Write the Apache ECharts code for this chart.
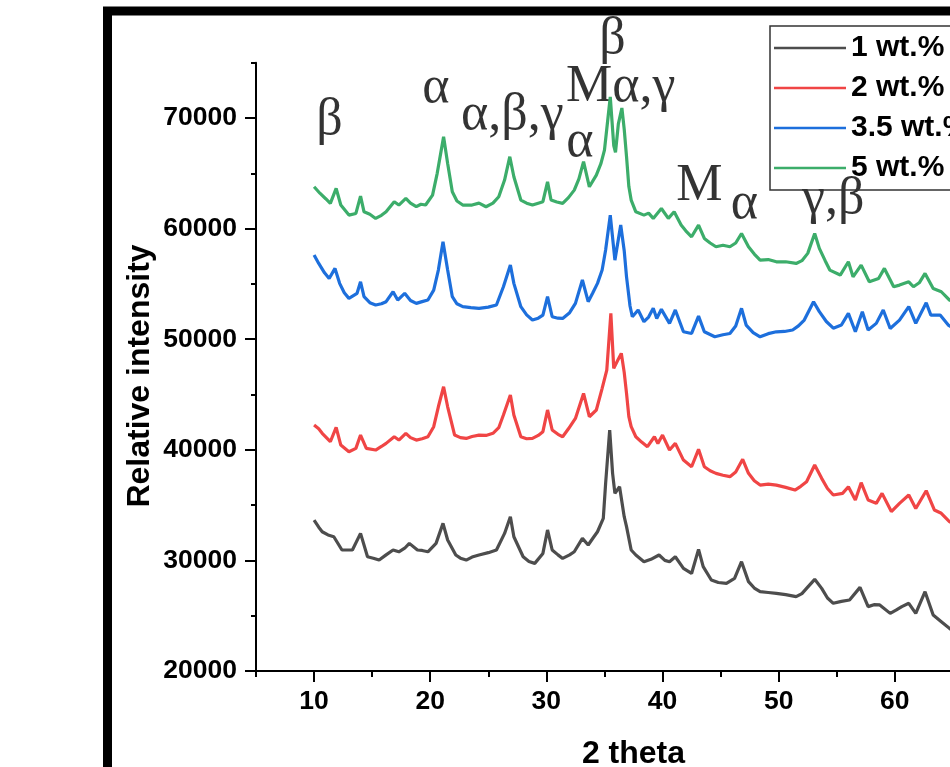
<!DOCTYPE html>
<html>
<head>
<meta charset="utf-8">
<script src="https://cdn.jsdelivr.net/npm/echarts@6/dist/echarts.min.js"></script>
<style>
  html, body { margin: 0; padding: 0; background: #fff; }
  #chart { width: 950px; height: 767px; }
</style>
</head>
<body>
<div id="chart"></div>
<script>
// [2 theta, intensity]
const wt1 = [[10.0,33650],[10.4,33000],[10.7,32590],[11.2,32300],[11.7,32140],[12.4,30940],[13.3,30940],[14.0,32440],[14.6,30330],[15.1,30200],[15.6,30030],[16.2,30500],[16.8,30940],[17.3,30780],[17.8,31100],[18.2,31540],[18.9,30940],[19.3,30900],[19.8,30780],[20.5,31540],[21.1,33350],[21.5,31840],[22.2,30490],[22.6,30200],[23.1,30030],[23.6,30300],[24.2,30490],[25.0,30700],[25.7,30940],[26.4,32440],[26.9,33950],[27.2,32140],[28.0,30330],[28.5,29900],[29.0,29730],[29.7,30630],[30.1,32750],[30.5,30940],[31.0,30500],[31.4,30180],[32.0,30500],[32.4,30780],[33.1,31990],[33.6,31390],[34.0,32000],[34.4,32590],[34.9,33800],[35.1,36960],[35.45,41790],[35.7,37870],[35.9,36060],[36.3,36660],[36.7,33950],[36.9,33050],[37.3,30940],[37.7,30490],[38.4,29880],[39.0,30100],[39.7,30490],[40.2,30000],[40.6,29880],[41.1,30330],[41.8,29280],[42.5,28820],[43.1,31000],[43.5,29430],[44.2,28230],[44.8,28000],[45.5,27920],[46.2,28370],[46.8,29880],[47.4,28080],[47.9,27500],[48.4,27170],[49.1,27100],[49.8,27020],[50.6,26900],[51.5,26720],[52.0,27000],[52.4,27470],[53.1,28290],[53.7,27470],[54.2,26600],[54.7,26120],[55.4,26300],[56.1,26420],[57.0,27560],[57.7,25820],[58.2,26000],[58.7,25970],[59.6,25210],[60.1,25500],[60.6,25820],[61.2,26120],[61.8,25210],[62.6,27170],[63.3,25060],[64.0,24460],[64.7,23860],[65.2,23500]]

const wt2 = [[10.0,42240],[10.4,41900],[10.7,41490],[11.4,40730],[11.9,42030],[12.3,40430],[13.0,39820],[13.6,40130],[14.0,41330],[14.5,40130],[15.3,39980],[15.8,40300],[16.2,40580],[16.9,41180],[17.3,40880],[17.9,41490],[18.3,41100],[18.8,40880],[19.3,41000],[19.8,41180],[20.3,42090],[20.7,43890],[21.15,45700],[21.5,43890],[22.1,41330],[22.6,41100],[23.1,41030],[23.6,41200],[24.2,41330],[24.8,41300],[25.4,41490],[25.9,42000],[26.3,43140],[26.9,44950],[27.2,43140],[27.8,41180],[28.3,41000],[28.8,41030],[29.3,41300],[29.7,41640],[30.1,43600],[30.5,41790],[31.0,41400],[31.4,41180],[31.9,41900],[32.5,42840],[33.2,45100],[33.7,42990],[34.3,43600],[34.8,45560],[35.2,47210],[35.55,52340],[35.8,47360],[36.1,48000],[36.45,48720],[36.7,47000],[36.9,45100],[37.1,43000],[37.3,42090],[37.7,41180],[38.2,40700],[38.7,40280],[39.3,41180],[39.6,40580],[40.0,41330],[40.6,39980],[41.1,40580],[41.8,39070],[42.5,38470],[43.1,40040],[43.6,38470],[44.1,38100],[44.6,37870],[45.2,37700],[45.8,37570],[46.3,38000],[46.9,39140],[47.4,37870],[47.9,37200],[48.4,36810],[49.1,36900],[49.8,36810],[50.6,36600],[51.4,36360],[51.9,36700],[52.4,37110],[53.1,38620],[53.7,37420],[54.2,36500],[54.7,35910],[55.5,36060],[56.0,36660],[56.6,35460],[57.1,37030],[57.7,35460],[58.4,35160],[58.9,36060],[59.7,34420],[60.4,35160],[61.2,35910],[61.8,34690],[62.7,36300],[63.4,34560],[64.0,34260],[64.7,33500],[65.2,33200]]

const wt35 = [[10.0,57610],[10.4,56850],[10.9,56000],[11.3,55490],[11.8,56400],[12.2,55050],[12.6,54200],[13.0,53690],[13.7,54150],[14.0,55190],[14.3,53840],[14.8,53300],[15.3,53090],[15.8,53200],[16.2,53390],[16.8,54290],[17.2,53540],[17.8,54150],[18.3,53500],[18.8,53240],[19.3,53400],[19.8,53540],[20.3,54440],[20.7,56250],[21.1,58810],[21.5,56250],[21.9,53840],[22.3,53200],[22.8,52940],[23.5,52850],[24.2,52790],[25.0,52900],[25.7,53090],[26.3,54740],[26.9,56700],[27.2,55050],[27.8,52940],[28.3,52200],[28.8,51730],[29.3,51900],[29.7,52180],[30.1,53840],[30.5,52030],[31.0,51900],[31.4,51880],[32.0,52400],[32.5,53240],[33.1,55350],[33.6,53390],[34.0,54200],[34.4,55050],[34.8,56250],[35.1,58060],[35.5,61220],[35.9,57150],[36.4,60320],[36.7,58000],[36.9,55640],[37.2,53000],[37.4,52030],[37.9,52640],[38.4,51580],[38.8,52000],[39.2,52790],[39.5,51880],[39.9,52700],[40.6,51430],[41.1,52640],[41.8,50670],[42.5,50520],[43.1,52090],[43.6,50670],[44.5,50220],[45.2,50400],[45.8,50520],[46.3,51200],[46.8,52790],[47.2,51280],[47.8,50600],[48.4,50220],[49.1,50500],[49.8,50670],[50.5,50700],[51.2,50830],[51.7,51200],[52.2,51730],[53.0,53390],[53.5,52490],[54.1,51600],[54.7,51000],[55.4,51280],[56.0,52340],[56.6,50670],[57.2,52490],[57.7,50830],[58.4,51430],[59.0,52640],[59.6,50970],[60.4,51730],[61.2,52940],[61.8,51430],[62.7,53300],[63.1,52180],[63.9,52180],[64.6,51280],[65.2,50900]]

const wt5 = [[10.0,63780],[10.5,63200],[11.0,62700],[11.4,62280],[11.9,63640],[12.3,62130],[13.0,61220],[13.6,61370],[14.0,62940],[14.3,61520],[14.8,61300],[15.3,60920],[15.8,61200],[16.2,61520],[16.9,62430],[17.3,62130],[17.9,62730],[18.3,62300],[18.8,61980],[19.2,62200],[19.6,62130],[20.2,63030],[20.6,65000],[20.9,66800],[21.15,68300],[21.5,65890],[21.9,63330],[22.3,62500],[22.8,62130],[23.6,62130],[24.2,62300],[24.8,61980],[25.4,62300],[25.9,62880],[26.4,64390],[26.85,66500],[27.2,64690],[27.8,62580],[28.3,62300],[28.8,62130],[29.3,62300],[29.7,62430],[30.1,64230],[30.4,62580],[30.9,62400],[31.4,62280],[31.9,62800],[32.4,63480],[32.8,64500],[33.2,66050],[33.7,63780],[34.3,64840],[34.7,65890],[35.0,67100],[35.25,69500],[35.5,71900],[35.8,67500],[35.95,66900],[36.2,69500],[36.5,70900],[36.7,69000],[36.9,66500],[37.1,63800],[37.3,62580],[37.7,61520],[38.4,61220],[38.8,61400],[39.2,60920],[39.9,61820],[40.5,60920],[41.0,61520],[41.6,60320],[42.0,59800],[42.5,59260],[43.1,60320],[43.6,59110],[44.1,58700],[44.6,58360],[45.2,58500],[45.8,58360],[46.3,58700],[46.8,59560],[47.4,58360],[47.9,57700],[48.4,57150],[49.1,57200],[49.8,57000],[50.6,57000],[51.5,56850],[52.0,57100],[52.5,57760],[53.1,59560],[53.5,58210],[54.0,57100],[54.4,56250],[55.3,55800],[56.0,57000],[56.4,55640],[57.1,56700],[57.8,55190],[58.6,55490],[59.1,56400],[59.9,54740],[60.4,54890],[61.2,55190],[61.6,54740],[62.1,55100],[62.6,55950],[63.3,54590],[64.0,54290],[64.7,53540],[65.2,53300]]

const seriesNames = ['1 wt.%', '2 wt.%', '3.5 wt.%', '5 wt.%']
const seriesColors = ['#4d4d4d', '#f04545', '#1d6fdc', '#3cad6a']

// phase labels: [2 theta, intensity, text]
const peakLabels = [
  [11.33, 69780, 'β'],
  [20.49, 72670, 'α'],
  [27.07, 70230, 'α,β,γ'],
  [32.88, 67790, 'α'],
  [35.68, 77100, 'β'],
  [36.41, 72760, 'Mα,γ'],
  [43.17, 63810, 'M'],
  [47.04, 62180, 'α'],
  [54.70, 62630, 'γ,β']
]

const sans = 'Arial, "Liberation Sans", sans-serif'
const serif = '"Times New Roman", "Liberation Serif", serif'

const chart = echarts.init(document.getElementById('chart'))

const lineSeries = [wt1, wt2, wt35, wt5].map((d, i) => ({
  name: seriesNames[i],
  type: 'line',
  data: d,
  symbol: 'none',
  showSymbol: false,
  color: seriesColors[i],
  lineStyle: { width: 3.2, color: seriesColors[i] },
  xAxisIndex: 0,
  yAxisIndex: 0
}))

const plain = v => String(v)

const option = {
  animation: false,
  backgroundColor: '#fff',
  // grid 0 holds the data, grids 1 and 2 only draw the long ticks + labels
  grid: [
    { left: 256, right: -61, top: 62.7, bottom: 96, outerBoundsMode: 'none', containLabel: false },
    { left: 314, right: -61, top: 62.7, bottom: 96, outerBoundsMode: 'none', containLabel: false },
    { left: 256, right: -61, top: 118, bottom: 96, outerBoundsMode: 'none', containLabel: false }
  ],
  xAxis: [
    {
      gridIndex: 0, type: 'value', min: 5, max: 70, interval: 5,
      axisLine: { lineStyle: { color: '#000', width: 2 } },
      axisTick: { length: 6, lineStyle: { color: '#000', width: 2 } },
      axisLabel: { show: false },
      splitLine: { show: false },
      name: '2 theta', nameLocation: 'middle', nameGap: 67,
      nameTextStyle: { fontSize: 32, fontWeight: 'bold', color: '#000', fontFamily: sans }
    },
    {
      gridIndex: 1, type: 'value', min: 10, max: 70, interval: 10,
      axisLine: { show: false },
      axisTick: { length: 11, lineStyle: { color: '#000', width: 2 } },
      axisLabel: { fontSize: 26.5, fontWeight: 'bold', color: '#000', fontFamily: sans, margin: 17, formatter: plain },
      splitLine: { show: false }
    },
    { gridIndex: 2, type: 'value', min: 0, max: 1, show: false }
  ],
  yAxis: [
    {
      gridIndex: 0, type: 'value', min: 20000, max: 75000, interval: 5000,
      axisLine: { show: true, lineStyle: { color: '#000', width: 2 } },
      axisTick: { show: true, length: 5, lineStyle: { color: '#000', width: 2 } },
      axisLabel: { show: false },
      splitLine: { show: false }
    },
    { gridIndex: 1, type: 'value', min: 0, max: 1, show: false },
    {
      gridIndex: 2, type: 'value', min: 20000, max: 70000, interval: 10000,
      axisLine: { show: false },
      axisTick: { show: true, length: 11, lineStyle: { color: '#000', width: 2 } },
      axisLabel: { fontSize: 26.5, fontWeight: 'bold', color: '#000', fontFamily: sans, margin: 19, formatter: plain },
      splitLine: { show: false }
    }
  ],
  legend: {
    data: seriesNames,
    orient: 'vertical',
    left: 770,
    top: 26,
    padding: [7, 40, 7, 4],
    icon: 'rect',
    itemWidth: 72,
    itemHeight: 2.5,
    itemGap: 10,
    borderColor: '#333',
    borderWidth: 1.5,
    textStyle: { fontSize: 30, fontWeight: 'bold', color: '#000', fontFamily: sans, lineHeight: 30 }
  },
  graphic: [
    {
      type: 'text', x: 140, y: 376, rotation: Math.PI / 2,
      style: {
        text: 'Relative intensity', fill: '#000',
        font: 'bold 32px ' + sans,
        textAlign: 'center', textVerticalAlign: 'middle'
      }
    },
    {
      type: 'rect', z: 100,
      shape: { x: 107.5, y: 11, width: 2000, height: 2000 },
      style: { fill: 'none', stroke: '#000', lineWidth: 9 }
    }
  ],
  series: lineSeries.concat([{
    type: 'scatter',
    xAxisIndex: 0,
    yAxisIndex: 0,
    symbolSize: 0,
    clip: false,
    silent: true,
    data: peakLabels.map(p => ({ name: p[2], value: [p[0], p[1]] })),
    label: {
      show: true, position: 'inside', formatter: '{b}',
      fontFamily: serif, fontSize: 52, color: '#000'
    }
  }])
}

chart.setOption(option)
</script>
</body>
</html>
